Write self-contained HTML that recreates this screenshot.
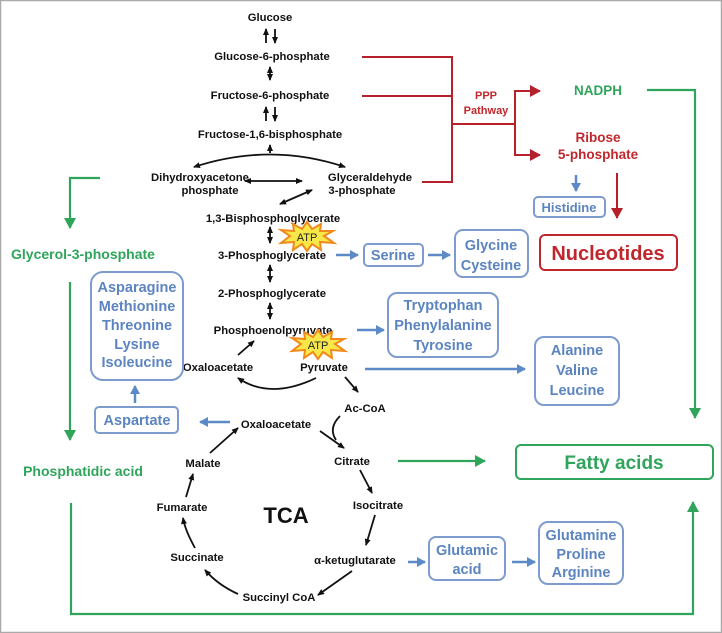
<!DOCTYPE html>
<html><head><meta charset="utf-8"><style>
html,body{margin:0;padding:0;background:#fff}
svg{display:block}
text{font-family:"Liberation Sans",Arial,sans-serif;font-weight:bold}
.k{font-size:11.3px;fill:#111}
.b{font-size:14.5px;fill:#5b84c0}
.g{fill:#2ea55a}
.r{fill:#c0272d}
</style></head><body>
<svg width="722" height="633" viewBox="0 0 722 633" xmlns="http://www.w3.org/2000/svg">
<defs>
<marker id="ak" markerWidth="8" markerHeight="8" refX="6" refY="4" orient="auto-start-reverse" markerUnits="userSpaceOnUse"><path d="M0,1 L7,4 L0,7 z" fill="#111"/></marker>
<marker id="ab" markerWidth="10" markerHeight="10" refX="8" refY="5" orient="auto" markerUnits="userSpaceOnUse"><path d="M0,0 L9,5 L0,10 z" fill="#5b8ac6"/></marker>
<marker id="ag" markerWidth="12" markerHeight="12" refX="10" refY="6" orient="auto" markerUnits="userSpaceOnUse"><path d="M0,0 L11,6 L0,12 z" fill="#2ea55a"/></marker>
<marker id="ar" markerWidth="12" markerHeight="12" refX="10" refY="6" orient="auto" markerUnits="userSpaceOnUse"><path d="M0,0 L11,6 L0,12 z" fill="#b5202a"/></marker>
</defs>
<rect x="0.5" y="0.5" width="721" height="632" fill="#fff" stroke="#aaa" stroke-width="1.5"/>

<g class="k" text-anchor="middle">
<text x="270" y="21">Glucose</text>
<text x="272" y="60">Glucose-6-phosphate</text>
<text x="270" y="99">Fructose-6-phosphate</text>
<text x="270" y="138">Fructose-1,6-bisphosphate</text>
<text x="200" y="181">Dihydroxyacetone</text>
<text x="210" y="194">phosphate</text>
<text x="370" y="181">Glyceraldehyde</text>
<text x="362" y="194">3-phosphate</text>
<text x="273" y="222">1,3-Bisphosphoglycerate</text>
<text x="272" y="259">3-Phosphoglycerate</text>
<text x="272" y="297">2-Phosphoglycerate</text>
<text x="273" y="334">Phosphoenolpyruvate</text>
<text x="218" y="371">Oxaloacetate</text>
<text x="324" y="371">Pyruvate</text>
<text x="365" y="412">Ac-CoA</text>
<text x="276" y="428">Oxaloacetate</text>
<text x="352" y="465">Citrate</text>
<text x="203" y="467">Malate</text>
<text x="182" y="511">Fumarate</text>
<text x="378" y="509">Isocitrate</text>
<text x="197" y="561">Succinate</text>
<text x="355" y="564">α-ketuglutarate</text>
<text x="279" y="601">Succinyl CoA</text>
</g>
<text x="286" y="523" text-anchor="middle" style="font-size:22px;fill:#111">TCA</text>

<g stroke="#111" stroke-width="1.8" fill="none">
<line x1="266" y1="43" x2="266" y2="29" marker-end="url(#ak)"/>
<line x1="275" y1="29" x2="275" y2="43" marker-end="url(#ak)"/>
<line x1="270" y1="67" x2="270" y2="80" marker-start="url(#ak)" marker-end="url(#ak)"/>
<line x1="266" y1="121" x2="266" y2="107" marker-end="url(#ak)"/>
<line x1="275" y1="107" x2="275" y2="121" marker-end="url(#ak)"/>
<line x1="270" y1="153" x2="270" y2="145" marker-end="url(#ak)"/>
<path d="M194,167 Q270,142 345,167" marker-start="url(#ak)" marker-end="url(#ak)"/>
<line x1="245" y1="181" x2="302" y2="181" marker-start="url(#ak)" marker-end="url(#ak)"/>
<line x1="280" y1="204" x2="312" y2="190" marker-start="url(#ak)" marker-end="url(#ak)"/>
<line x1="270" y1="227" x2="270" y2="243" marker-start="url(#ak)" marker-end="url(#ak)"/>
<line x1="270" y1="265" x2="270" y2="282" marker-start="url(#ak)" marker-end="url(#ak)"/>
<line x1="270" y1="303" x2="270" y2="319" marker-start="url(#ak)" marker-end="url(#ak)"/>
<line x1="238" y1="355" x2="254" y2="341" marker-end="url(#ak)"/>
<path d="M316,378 Q270,400 238,378" marker-end="url(#ak)"/>
<line x1="345" y1="377" x2="358" y2="392" marker-end="url(#ak)"/>
<path d="M340,416 Q328,428 336,440"/>
<line x1="320" y1="431" x2="344" y2="448" marker-end="url(#ak)"/>
<line x1="360" y1="470" x2="372" y2="493" marker-end="url(#ak)"/>
<line x1="375" y1="515" x2="366" y2="545" marker-end="url(#ak)"/>
<line x1="352" y1="571" x2="318" y2="595" marker-end="url(#ak)"/>
<path d="M238,594 Q218,585 205,570" marker-end="url(#ak)"/>
<path d="M195,548 Q185,530 183,518" marker-end="url(#ak)"/>
<line x1="186" y1="497" x2="193" y2="474" marker-end="url(#ak)"/>
<line x1="210" y1="453" x2="238" y2="428" marker-end="url(#ak)"/>
</g>

<g>
<polygon points="307,222 312,229 321,224 320,231 333,231 324,236 334,243 320,242 321,250 312,244 307,251 302,244 293,250 294,242 281,243 290,236 281,230 294,231 293,224 302,229" fill="#f7e84a" stroke="#f08a1c" stroke-width="2"/>
<text x="307" y="241" text-anchor="middle" style="font-size:11px;fill:#222;font-weight:normal">ATP</text>
<polygon points="318,330 323,337 332,332 331,339 344,339 335,344 345,351 331,350 332,358 323,352 318,359 313,352 304,358 305,350 292,351 301,344 292,338 305,339 304,332 313,337" fill="#f7e84a" stroke="#f08a1c" stroke-width="2"/>
<text x="318" y="349" text-anchor="middle" style="font-size:11px;fill:#222;font-weight:normal">ATP</text>
</g>

<g stroke="#b5202a" stroke-width="2" fill="none">
<polyline points="362,57 452,57 452,182 422,182"/>
<line x1="362" y1="96" x2="452" y2="96"/>
<line x1="452" y1="124" x2="515" y2="124"/>
<polyline points="540,91 515,91 515,155 540,155"/>
<line x1="516" y1="91" x2="540" y2="91" marker-end="url(#ar)"/>
<line x1="516" y1="155" x2="540" y2="155" marker-end="url(#ar)"/>
<line x1="617" y1="173" x2="617" y2="218" marker-end="url(#ar)"/>
</g>
<text x="486" y="99" text-anchor="middle" class="r" style="font-size:11px">PPP</text>
<text x="486" y="114" text-anchor="middle" class="r" style="font-size:11px">Pathway</text>
<text x="598" y="95" text-anchor="middle" class="g" style="font-size:13.5px">NADPH</text>
<text x="598" y="142" text-anchor="middle" class="r" style="font-size:13.5px">Ribose</text>
<text x="598" y="159" text-anchor="middle" class="r" style="font-size:13.5px">5-phosphate</text>
<rect x="540" y="235" width="137" height="35" rx="5" fill="none" stroke="#c0272d" stroke-width="2"/>
<text x="608" y="260" text-anchor="middle" class="r" style="font-size:20px">Nucleotides</text>

<g stroke="#2ea55a" stroke-width="2.2" fill="none">
<polyline points="647,90 695,90 695,418" marker-end="url(#ag)"/>
<polyline points="100,178 70,178 70,228" marker-end="url(#ag)"/>
<line x1="70" y1="282" x2="70" y2="440" marker-end="url(#ag)"/>
<polyline points="71,503 71,614 693,614 693,502" marker-end="url(#ag)"/>
<line x1="398" y1="461" x2="485" y2="461" marker-end="url(#ag)"/>
</g>
<text x="83" y="259" text-anchor="middle" class="g" style="font-size:14px">Glycerol-3-phosphate</text>
<text x="83" y="476" text-anchor="middle" class="g" style="font-size:14px">Phosphatidic acid</text>
<rect x="516" y="445" width="197" height="34" rx="5" fill="none" stroke="#2ea55a" stroke-width="2"/>
<text x="614" y="469" text-anchor="middle" class="g" style="font-size:19px">Fatty acids</text>

<g fill="none" stroke="#7d9ccd" stroke-width="2">
<rect x="534" y="197" width="71" height="20" rx="4"/>
<rect x="364" y="244" width="59" height="22" rx="4"/>
<rect x="455" y="230" width="73" height="47" rx="8"/>
<rect x="388" y="293" width="110" height="64" rx="9"/>
<rect x="535" y="337" width="84" height="68" rx="9"/>
<rect x="91" y="272" width="92" height="108" rx="12"/>
<rect x="95" y="407" width="83" height="26" rx="4"/>
<rect x="429" y="537" width="76" height="43" rx="7"/>
<rect x="539" y="522" width="84" height="62" rx="9"/>
</g>
<g class="b" text-anchor="middle">
<text x="569" y="212" style="font-size:13px">Histidine</text>
<text x="393" y="260">Serine</text>
<text x="491" y="250">Glycine</text>
<text x="491" y="270">Cysteine</text>
<text x="443" y="310">Tryptophan</text>
<text x="443" y="330">Phenylalanine</text>
<text x="443" y="350">Tyrosine</text>
<text x="577" y="355">Alanine</text>
<text x="577" y="375">Valine</text>
<text x="577" y="395">Leucine</text>
<text x="137" y="292">Asparagine</text>
<text x="137" y="311">Methionine</text>
<text x="137" y="330">Threonine</text>
<text x="137" y="349">Lysine</text>
<text x="137" y="367">Isoleucine</text>
<text x="137" y="425">Aspartate</text>
<text x="467" y="555">Glutamic</text>
<text x="467" y="574">acid</text>
<text x="581" y="540">Glutamine</text>
<text x="581" y="559">Proline</text>
<text x="581" y="577">Arginine</text>
</g>
<g stroke="#5b8ac6" stroke-width="2.5" fill="none">
<line x1="576" y1="175" x2="576" y2="191" marker-end="url(#ab)"/>
<line x1="336" y1="255" x2="358" y2="255" marker-end="url(#ab)"/>
<line x1="428" y1="255" x2="450" y2="255" marker-end="url(#ab)"/>
<line x1="357" y1="330" x2="384" y2="330" marker-end="url(#ab)"/>
<line x1="365" y1="369" x2="525" y2="369" marker-end="url(#ab)"/>
<line x1="135" y1="403" x2="135" y2="386" marker-end="url(#ab)"/>
<line x1="230" y1="422" x2="200" y2="422" marker-end="url(#ab)"/>
<line x1="408" y1="562" x2="425" y2="562" marker-end="url(#ab)"/>
<line x1="512" y1="562" x2="535" y2="562" marker-end="url(#ab)"/>
</g>
</svg>
</body></html>
